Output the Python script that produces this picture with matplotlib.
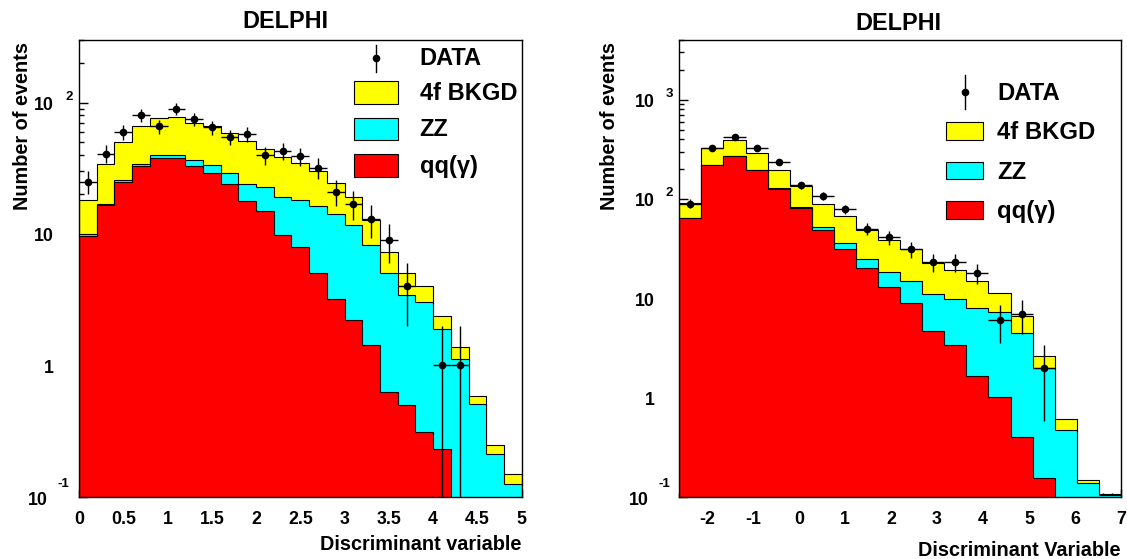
import numpy as np
import matplotlib
matplotlib.use('Agg')
import matplotlib.pyplot as plt
from matplotlib.transforms import offset_copy
from matplotlib.patches import Rectangle
from matplotlib.lines import Line2D
from matplotlib.ticker import MultipleLocator, LogLocator, NullFormatter, FuncFormatter

plt.rcParams['font.family'] = ['Liberation Sans', 'DejaVu Sans']
plt.rcParams['font.weight'] = 'bold'
plt.rcParams['axes.unicode_minus'] = False

W, H = 1127, 559

# ---------------- data ----------------
left_xmin, left_xmax, left_nbins = 0.0, 5.0, 25
left_qq = [9.6, 16.5, 25.1, 33.0, 38.0, 37.6, 33.2, 29.1, 24.1, 17.7, 14.9, 9.9, 7.9,
           5.05, 3.2, 2.2, 1.44, 0.63, 0.50, 0.31, 0.23, 0, 0, 0, 0]
left_zz = [0.4, 0.4, 0.8, 1.2, 2.1, 2.5, 3.3, 4.5, 5.0, 6.4, 8.1, 9.1, 10.2,
           11.4, 11.1, 9.5, 6.8, 4.4, 2.96, 2.73, 1.67, 1.11, 0.505, 0.211, 0.124]
left_4f = [8.2, 17.3, 24.4, 32.7, 36.0, 37.3, 33.2, 33.3, 30.1, 26.7, 21.2, 19.9, 16.9,
           13.9, 10.1, 7.3, 4.45, 2.3, 1.59, 0.96, 0.49, 0.27, 0.075, 0.037, 0.026]
left_data = [25, 41, 60, 80, 66, 90, 75, 65, 55, 58, 40, 43, 39, 32, 21, 17, 13, 9, 4,
             0, 1, 1, 0, 0, 0]

right_xmin, right_xmax, right_nbins = -2.6, 7.0, 20
right_qq = [64, 219, 268, 197, 126, 81, 49, 31.3, 20.1, 13.1, 8.9, 4.7, 3.4, 1.64,
            1.01, 0.40, 0.154, 0, 0, 0]
right_zz = [0.4, 0.5, 0.5, 0.5, 2, 2, 3, 4.6, 4.8, 5.2, 6.1, 6.4, 6.4, 6.4, 6.2,
            4.05, 1.85, 0.47, 0.137, 0.103]
right_4f = [26.5, 110, 124, 93, 66, 51, 37, 30.8, 24.1, 20.5, 16.3, 11.8, 9.5, 6.9,
            4.1, 2.2, 0.63, 0.13, 0.011, 0.003]
right_data = [90, 330, 425, 330, 235, 137, 108, 79, 50, 41, 31, 23, 23, 18, 6, 7, 2,
              0, 0, 0]

labels = ['DATA', '4f BKGD', 'ZZ', 'qq(γ)']
titles = ['DELPHI', 'DELPHI']
xlabels = ['Discriminant variable', 'Discriminant Variable']
ylabel = 'Number of events'

C_4F, C_ZZ, C_QQ = '#ffff00', '#00ffff', '#ff0000'
BOLD = 'bold'

fig = plt.figure(figsize=(W / 100, H / 100), dpi=100)


def px_rect(x0, y0, x1, y1):
    return [x0 / W, 1 - y1 / H, (x1 - x0) / W, (y1 - y0) / H]


axL = fig.add_axes(px_rect(79, 40, 521.7, 496.7))
axR = fig.add_axes(px_rect(679.3, 40, 1121, 496.7))


def draw_panel(ax, xmin, xmax, nb, qq, zz, f4, data, ylim, xmaj, xmin_loc, ylabspecs):
    edges = np.linspace(xmin, xmax, nb + 1)
    qq = np.array(qq, float)
    zz = np.array(zz, float)
    f4 = np.array(f4, float)
    lvl_qq = qq
    lvl_zz = qq + zz
    lvl_tot = qq + zz + f4
    floor = 1e-4
    for lvl, col in [(lvl_tot, C_4F), (lvl_zz, C_ZZ), (lvl_qq, C_QQ)]:
        ax.stairs(np.maximum(lvl, floor), edges, baseline=floor, fill=True,
                  facecolor=col, edgecolor='black', linewidth=0.8, zorder=2)
    d = np.array(data, float)
    centers = 0.5 * (edges[:-1] + edges[1:])
    half = 0.5 * (edges[1] - edges[0])
    m = d > 0
    err = np.sqrt(d[m])
    lo = d[m] - np.maximum(d[m] - err, floor)
    hi = err
    ax.errorbar(centers[m], d[m], xerr=half, yerr=[lo, hi], fmt='o', color='black',
                ms=4.5, elinewidth=1.0, capsize=0, zorder=4)
    ax.set_yscale('log')
    ax.set_ylim(*ylim)
    ax.set_xlim(xmin, xmax)
    ax.xaxis.set_major_locator(MultipleLocator(xmaj))
    ax.xaxis.set_minor_locator(MultipleLocator(xmin_loc))
    ax.xaxis.set_major_formatter(FuncFormatter(lambda v, p: f'{v:g}'))
    ax.yaxis.set_major_locator(LogLocator(base=10))
    ax.yaxis.set_minor_locator(LogLocator(base=10, subs=np.arange(2, 10)))
    ax.yaxis.set_major_formatter(NullFormatter())
    ax.yaxis.set_minor_formatter(NullFormatter())
    ax.tick_params(axis='x', which='major', direction='in', length=6, width=1,
                   labelsize=12.8, pad=10.3, top=False)
    ax.tick_params(axis='x', which='minor', direction='in', length=3, width=1, top=False)
    ax.tick_params(axis='y', which='major', direction='in', length=6.7, width=1, right=False)
    ax.tick_params(axis='y', which='minor', direction='in', length=3.6, width=1, right=False)
    for s in ax.spines.values():
        s.set_linewidth(1.0)
        s.set_zorder(5)
    tr = ax.get_yaxis_transform()
    for val, base, exp, bgap, bdy, egap, edy in ylabspecs:
        t = offset_copy(tr, fig=fig, x=-bgap, y=bdy, units='dots')
        ax.text(0, val, base, transform=t, ha='right', va='baseline', fontsize=12.8,
                fontweight=BOLD)
        if exp:
            t2 = offset_copy(tr, fig=fig, x=-egap, y=edy, units='dots')
            ax.text(0, val, exp, transform=t2, ha='left', va='baseline', fontsize=9.5,
                    fontweight=BOLD)


specL = [(0.1, '10', '-1', 31, -8.3, 21, 10), (1, '1', '', 25.5, -7.3, 0, 0),
         (10, '10', '', 25.5, -7.3, 0, 0), (100, '10', '2', 25.5, -7.3, 14, 2.8)]
specR = [(0.1, '10', '-1', 31, -8.3, 21, 10), (1, '1', '', 25, -7.3, 0, 0),
         (10, '10', '', 25, -7.3, 0, 0), (100, '10', '2', 25, -7.3, 14, 2.8),
         (1000, '10', '3', 25, -7.3, 14, 2.8)]

draw_panel(axL, left_xmin, left_xmax, left_nbins, left_qq, left_zz, left_4f, left_data,
           (0.1, 300), 0.5, 0.1, specL)
draw_panel(axR, right_xmin, right_xmax, right_nbins, right_qq, right_zz, right_4f,
           right_data, (0.1, 4000), 1, 0.2, specR)

for ax in (axL, axR):
    for lab in ax.get_xticklabels():
        lab.set_fontweight(BOLD)


def ftext(x, y, s, **kw):
    fig.text(x / W, 1 - y / H, s, fontweight=BOLD, **kw)


# titles, axis labels
ftext(285.7, 28.3, titles[0], ha='center', va='baseline', fontsize=16.8)
ftext(898.8, 30, titles[1], ha='center', va='baseline', fontsize=16.8)
ftext(521.7, 550, xlabels[0], ha='right', va='baseline', fontsize=14.3)
ftext(1121, 556.5, xlabels[1], ha='right', va='baseline', fontsize=14.3)
ftext(32.5, 41.5, ylabel, ha='right', va='top', rotation=90, fontsize=14.3)
ftext(619, 41.5, ylabel, ha='right', va='top', rotation=90, fontsize=14.3)


# legends
def legend(mx, my, ly0, ly1, bx0, bx1, boxes, tx, baselines, fs):
    fig.add_artist(Line2D([mx / W, mx / W], [1 - ly0 / H, 1 - ly1 / H],
                          transform=fig.transFigure, color='black', lw=1.0))
    fig.add_artist(Line2D([mx / W], [1 - my / H], marker='o', ms=4.5, color='black',
                          transform=fig.transFigure))
    for (y0, y1), col in zip(boxes, [C_4F, C_ZZ, C_QQ]):
        fig.add_artist(Rectangle((bx0 / W, 1 - y1 / H), (bx1 - bx0) / W, (y1 - y0) / H,
                                 transform=fig.transFigure, facecolor=col,
                                 edgecolor='black', lw=0.8))
    for lab, b in zip(labels, baselines):
        ftext(tx, b, lab, ha='left', va='baseline', fontsize=fs)


legend(375.5, 58.3, 45, 71.7, 353.6, 397.5,
       [(81, 104.3), (117.7, 140), (154.3, 177.3)], 419.6, [65, 100, 136, 172.5], 17)
legend(964.5, 92.3, 75, 109.3, 945.9, 983,
       [(122.3, 140), (161.7, 179.3), (201, 219)], 997, [100, 139.3, 179, 218], 17.2)

fig.savefig('out.png', dpi=100)
